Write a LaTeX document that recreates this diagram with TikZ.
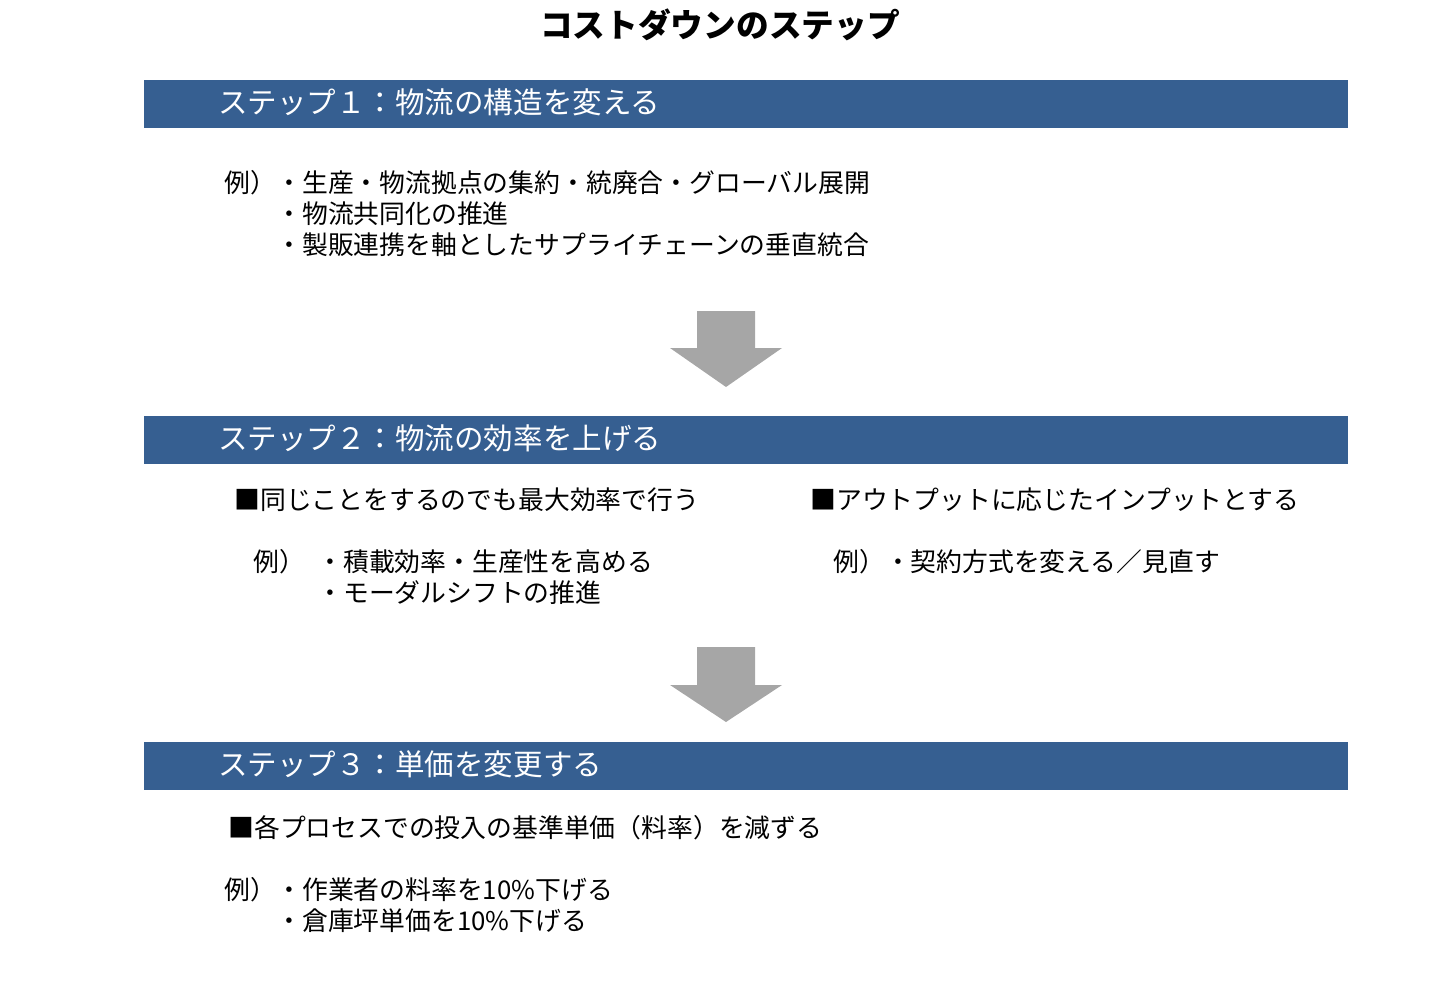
\documentclass[tikz,border=0pt]{standalone}
\usepackage{fontspec}
\setmainfont{Noto Sans CJK JP}
\usepackage{tikz}
\usetikzlibrary{positioning}
\usepackage{xcolor}
\definecolor{barblue}{HTML}{365F91}
\definecolor{arrowgray}{HTML}{A6A6A6}

\begin{document}
\begin{tikzpicture}[
    x=0.02cm, y=-0.02cm,
    bar/.style={rectangle, fill=barblue, text=white, anchor=west, minimum height=0.96cm,
        inner xsep=1.48cm, inner ysep=0pt, text width=21.12cm, align=left, text depth=0.32em,
        font=\fontsize{16.8}{20}\selectfont},
    body/.style={inner sep=0pt, anchor=west, align=left, font=\fontsize{14.7}{17.6}\selectfont},
    blockarr/.style={fill=arrowgray}
]
\useasboundingbox (0,0) rectangle (1440,997);

% Title
\node[font=\fontsize{18.6}{22}\selectfont\bfseries] (title) at (720,25) {コストダウンのステップ};

% Step 1
\node[bar] (step1) at (144,104) {ステップ１：物流の構造を変える};
\node[body] (ex1) at (224,183) {例）};
\node[body] (list1) at (276,214)
    {・生産・物流拠点の集約・統廃合・グローバル展開\\
     ・物流共同化の推進\\
     ・製販連携を軸としたサプライチェーンの垂直統合};

% Arrow 1 -> 2
\fill[blockarr] (697,311) -- (755,311) -- (755,348) -- (782,348) -- (726,387)
    -- (670,348) -- (697,348) -- cycle;

% Step 2
\node[bar] (step2) at (144,440) {ステップ２：物流の効率を上げる};
\node[body] (head2a) at (234,500) {■同じことをするのでも最大効率で行う};
\node[body] (ex2a) at (253,562) {例）};
\node[body] (list2a) at (317,577.5)
    {・積載効率・生産性を高める\\
     ・モーダルシフトの推進};
\node[body] (head2b) at (810,500) {■アウトプットに応じたインプットとする};
\node[body] (ex2b) at (833,562) {例）・契約方式を変える／見直す};

% Arrow 2 -> 3
\fill[blockarr] (697,647) -- (755,647) -- (755,685) -- (782,685) -- (726,722)
    -- (670,685) -- (697,685) -- cycle;

% Step 3
\node[bar] (step3) at (144,766) {ステップ３：単価を変更する};
\node[body] (head3) at (228,828) {■各プロセスでの投入の基準単価（料率）を減ずる};
\node[body] (ex3) at (224,890) {例）};
\node[body] (list3) at (276,905.5)
    {・作業者の料率を10\%下げる\\
     ・倉庫坪単価を10\%下げる};

\end{tikzpicture}
\end{document}
